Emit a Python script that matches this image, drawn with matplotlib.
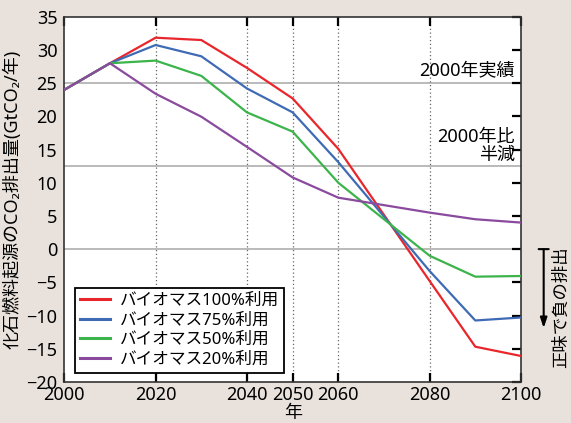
import numpy as np
import matplotlib
matplotlib.use("Agg")
import matplotlib.pyplot as plt

plt.rcParams['font.family'] = ['Noto Sans', 'Noto Sans CJK JP', 'DejaVu Sans']

years = [2000, 2010, 2020, 2030, 2040, 2050, 2060, 2080, 2090, 2100]
bio100 = [24.0, 28.0, 31.85, 31.5, 27.3, 22.7, 15.1, -4.8, -14.7, -16.1]
bio75 = [24.0, 28.0, 30.75, 29.05, 24.2, 20.6, 13.1, -3.3, -10.75, -10.3]
bio50 = [24.0, 28.0, 28.4, 26.1, 20.6, 17.7, 10.0, -1.0, -4.15, -4.05]
bio20 = [24.0, 28.0, 23.4, 19.95, 15.4, 10.8, 7.75, 5.5, 4.5, 4.0]

labels = ["バイオマス100%利用", "バイオマス75%利用", "バイオマス50%利用", "バイオマス20%利用"]
colors = ['#e8262b', '#3f6bb5', '#3cb44b', '#8a4a9e']

xticks = [2000, 2020, 2040, 2050, 2060, 2080, 2100]
vlines = [2020, 2040, 2050, 2060, 2080]
hlines = [25, 12.5, 0]


def main():
    bg = '#e9e2dc'
    fig = plt.figure(figsize=(5.71, 4.23), dpi=100, facecolor=bg)
    ax = fig.add_axes([0.1126, 0.0972, 0.7998, 0.8631])

    for y in hlines:
        ax.axhline(y, color='#b4b4b4', lw=1.3, zorder=1)
    for x in vlines:
        ax.axvline(x, color='#666666', lw=0.9, ls=(0, (1, 2)), zorder=1)

    for vals, c, lab in zip([bio100, bio75, bio50, bio20], colors, labels):
        ax.plot(years, vals, color=c, lw=1.6, label=lab, zorder=3)

    ax.set_xlim(2000, 2100)
    ax.set_ylim(-20, 35)
    ax.set_xticks(xticks)
    ax.set_yticks(np.arange(-20, 36, 5))
    ax.tick_params(axis='both', direction='in', length=6.5, width=1.6,
                   labelsize=13, colors='k', top=True, right=True)
    ax.tick_params(axis='y', pad=5)
    ax.tick_params(axis='x', pad=3)
    for t in ax.yaxis.get_major_ticks():
        if t.get_loc() >= 0:
            t.tick1line.set_visible(False)

    for s in ax.spines.values():
        s.set_color('#333333')
        s.set_linewidth(1.2)

    ax.set_xlabel("年", fontsize=13, labelpad=0)
    ax.set_ylabel("化石燃料起源のCO₂排出量(GtCO₂/年)", fontsize=13, labelpad=3)

    ax.text(2098.6, 26.8, "2000年実績", ha='right', va='center', fontsize=13)
    ax.text(2098.6, 15.6, "2000年比\n半減", ha='right', va='center',
            multialignment='right', linespacing=1.0, fontsize=13)

    # net negative emission marker outside the axes
    tr = ('axes fraction', 'data')
    ax.annotate('', xy=(1.0497, -11.9), xytext=(1.0497, 0), xycoords=tr,
                textcoords=tr, annotation_clip=False,
                arrowprops=dict(arrowstyle='-|>,head_length=0.6,head_width=0.2',
                                color='k', lw=1.5, shrinkA=0, shrinkB=0))
    ax.annotate('', xy=(1.0607, 0), xytext=(1.0387, 0), xycoords=tr,
                textcoords=tr, annotation_clip=False,
                arrowprops=dict(arrowstyle='-', color='k', lw=1.5,
                                shrinkA=0, shrinkB=0))
    ax.text(1.087, -8.7, "正味で負の排出", transform=ax.get_yaxis_transform(),
            rotation=90, ha='center', va='center', fontsize=12.5)

    leg = ax.legend(loc='lower left', bbox_to_anchor=(0.023, 0.025),
                    borderaxespad=0, fontsize=12, fancybox=False,
                    handlelength=1.8, handletextpad=0.6, labelspacing=0.22,
                    borderpad=0.3, framealpha=1)
    leg.get_frame().set_edgecolor('k')
    leg.get_frame().set_linewidth(1.3)
    for line in leg.get_lines():
        line.set_linewidth(2.2)

    fig.savefig("out.png", dpi=100, facecolor=bg)


if __name__ == "__main__":
    main()
